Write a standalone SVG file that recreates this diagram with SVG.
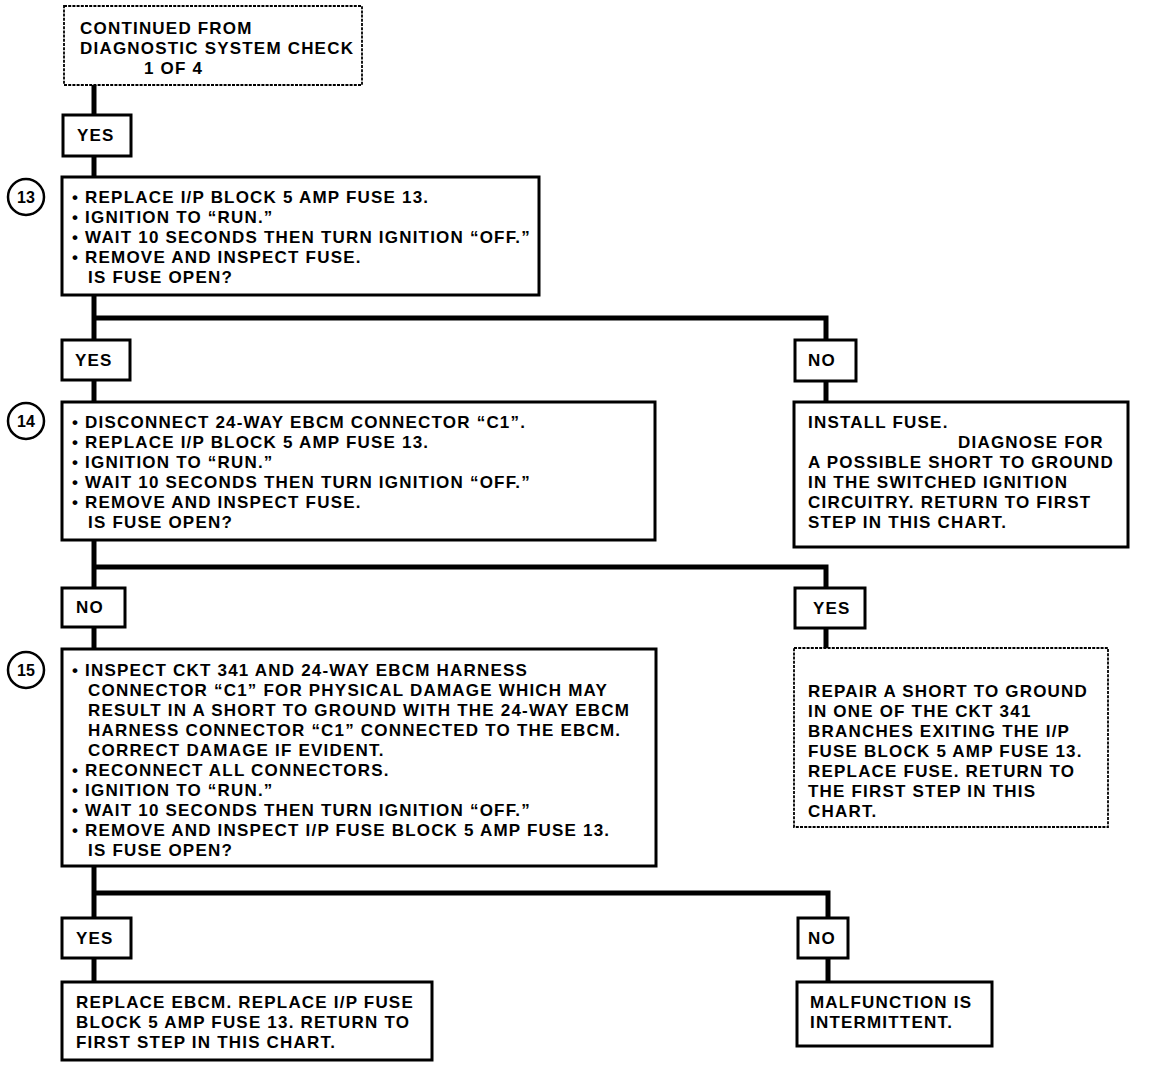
<svg xmlns="http://www.w3.org/2000/svg" width="1152" height="1070" viewBox="0 0 1152 1070">
<style>
text{font-family:"Liberation Sans",Arial,sans-serif;font-weight:bold;font-size:17px;letter-spacing:1.2px;fill:#000}
.box{fill:#fff;stroke:#000;stroke-width:3}
.dot{fill:#fff;stroke:#000;stroke-width:1.8;stroke-dasharray:3 1.2}
.conn{fill:none;stroke:#000;stroke-width:5}
.circ{fill:#fff;stroke:#000;stroke-width:2.5}
.num{font-size:16px;letter-spacing:0;text-anchor:middle}
</style>
<rect width="1152" height="1070" fill="#fff"/>
<g id="connectors">
<path class="conn" d="M94 85V177"/>
<path class="conn" d="M94 295V402"/>
<path class="conn" d="M94 318H826V402"/>
<path class="conn" d="M94 540V649"/>
<path class="conn" d="M94 567H826V648"/>
<path class="conn" d="M94 866V982"/>
<path class="conn" d="M94 893H828V982"/>
</g>
<g id="start">
<rect class="dot" x="64" y="6" width="298" height="79"/>
<text x="80" y="34">CONTINUED FROM</text>
<text x="80" y="54">DIAGNOSTIC SYSTEM CHECK</text>
<text x="144" y="74">1 OF 4</text>
</g>
<g id="yes1">
<rect class="box" x="63" y="115" width="68" height="41"/>
<text x="77" y="141">YES</text>
</g>
<g id="step13">
<circle class="circ" cx="26" cy="197" r="18"/>
<text class="num" x="26" y="203">13</text>
<rect class="box" x="62" y="177" width="477" height="118"/>
<text x="72" y="203">• REPLACE I/P BLOCK 5 AMP FUSE 13.</text>
<text x="72" y="223">• IGNITION TO “RUN.”</text>
<text x="72" y="243">• WAIT 10 SECONDS THEN TURN IGNITION “OFF.”</text>
<text x="72" y="263">• REMOVE AND INSPECT FUSE.</text>
<text x="88" y="283">IS FUSE OPEN?</text>
</g>
<g id="yes2">
<rect class="box" x="62" y="340" width="68" height="40"/>
<text x="75" y="366">YES</text>
</g>
<g id="no2">
<rect class="box" x="795" y="340" width="61" height="41"/>
<text x="808" y="366">NO</text>
</g>
<g id="install">
<rect class="box" x="794" y="402" width="334" height="145"/>
<text x="808" y="428">INSTALL FUSE.</text>
<text x="958" y="448">DIAGNOSE FOR</text>
<text x="808" y="468">A POSSIBLE SHORT TO GROUND</text>
<text x="808" y="488">IN THE SWITCHED IGNITION</text>
<text x="808" y="508">CIRCUITRY. RETURN TO FIRST</text>
<text x="808" y="528">STEP IN THIS CHART.</text>
</g>
<g id="step14">
<circle class="circ" cx="26" cy="421" r="18"/>
<text class="num" x="26" y="427">14</text>
<rect class="box" x="62" y="402" width="593" height="138"/>
<text x="72" y="428">• DISCONNECT 24-WAY EBCM CONNECTOR “C1”.</text>
<text x="72" y="448">• REPLACE I/P BLOCK 5 AMP FUSE 13.</text>
<text x="72" y="468">• IGNITION TO “RUN.”</text>
<text x="72" y="488">• WAIT 10 SECONDS THEN TURN IGNITION “OFF.”</text>
<text x="72" y="508">• REMOVE AND INSPECT FUSE.</text>
<text x="88" y="528">IS FUSE OPEN?</text>
</g>
<g id="no3">
<rect class="box" x="62" y="588" width="63" height="39"/>
<text x="76" y="613">NO</text>
</g>
<g id="yes3">
<rect class="box" x="795" y="588" width="70" height="40"/>
<text x="813" y="614">YES</text>
</g>
<g id="repair">
<rect class="dot" x="794" y="648" width="314" height="179"/>
<text x="808" y="697">REPAIR A SHORT TO GROUND</text>
<text x="808" y="717">IN ONE OF THE CKT 341</text>
<text x="808" y="737">BRANCHES EXITING THE I/P</text>
<text x="808" y="757">FUSE BLOCK 5 AMP FUSE 13.</text>
<text x="808" y="777">REPLACE FUSE. RETURN TO</text>
<text x="808" y="797">THE FIRST STEP IN THIS</text>
<text x="808" y="817">CHART.</text>
</g>
<g id="step15">
<circle class="circ" cx="26" cy="670" r="18"/>
<text class="num" x="26" y="676">15</text>
<rect class="box" x="62" y="649" width="594" height="217"/>
<text x="72" y="676">• INSPECT CKT 341 AND 24-WAY EBCM HARNESS</text>
<text x="88" y="696">CONNECTOR “C1” FOR PHYSICAL DAMAGE WHICH MAY</text>
<text x="88" y="716">RESULT IN A SHORT TO GROUND WITH THE 24-WAY EBCM</text>
<text x="88" y="736">HARNESS CONNECTOR “C1” CONNECTED TO THE EBCM.</text>
<text x="88" y="756">CORRECT DAMAGE IF EVIDENT.</text>
<text x="72" y="776">• RECONNECT ALL CONNECTORS.</text>
<text x="72" y="796">• IGNITION TO “RUN.”</text>
<text x="72" y="816">• WAIT 10 SECONDS THEN TURN IGNITION “OFF.”</text>
<text x="72" y="836">• REMOVE AND INSPECT I/P FUSE BLOCK 5 AMP FUSE 13.</text>
<text x="88" y="856">IS FUSE OPEN?</text>
</g>
<g id="yes4">
<rect class="box" x="62" y="918" width="69" height="40"/>
<text x="76" y="944">YES</text>
</g>
<g id="no4">
<rect class="box" x="798" y="918" width="50" height="40"/>
<text x="808" y="944">NO</text>
</g>
<g id="replace">
<rect class="box" x="62" y="982" width="370" height="78"/>
<text x="76" y="1008">REPLACE EBCM. REPLACE I/P FUSE</text>
<text x="76" y="1028">BLOCK 5 AMP FUSE 13. RETURN TO</text>
<text x="76" y="1048">FIRST STEP IN THIS CHART.</text>
</g>
<g id="intermittent">
<rect class="box" x="797" y="982" width="195" height="64"/>
<text x="810" y="1008">MALFUNCTION IS</text>
<text x="810" y="1028">INTERMITTENT.</text>
</g>
</svg>
